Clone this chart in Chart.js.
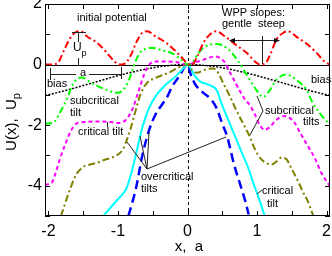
<!DOCTYPE html>
<html>
<head>
<meta charset="utf-8">
<script src="https://cdn.jsdelivr.net/npm/chart.js@4.4.0/dist/chart.umd.min.js"></script>
<style>
  html, body { margin: 0; padding: 0; background: #fff; }
</style>
</head>
<body>
<canvas id="chart" width="332" height="256"></canvas>
<script>
// Tick labels
const xLabelVals = [-2, -1, 0, 1, 2];
const yLabelVals = [2, 0, -2, -4];

// initial potential (red)
const redX = [-2.05, -1.95, -1.87, -1.77, -1.70, -1.62, -1.54, -1.44, -1.30, -1.18, -1.04, -0.98, -0.91, -0.81, -0.74, -0.65, -0.58, -0.46, -0.31, -0.17, -0.05, 0.0, 0.07, 0.14, 0.23, 0.33, 0.41, 0.54, 0.69, 0.85, 0.98, 1.04, 1.11, 1.19, 1.28, 1.38, 1.44, 1.59, 1.73, 1.88, 1.97, 2.05];
const redY = [0, 0, 0.05, 0.5, 0.83, 1.05, 1.1, 0.92, 0.72, 0.44, 0.08, 0, 0.02, 0.33, 0.72, 1.05, 1.1, 0.93, 0.72, 0.44, 0.15, 0.02, 0, 0.27, 0.72, 1.01, 1.1, 0.93, 0.66, 0.39, 0.08, 0, 0.02, 0.33, 0.83, 1.05, 1.1, 0.88, 0.66, 0.33, 0.1, 0];

// subcritical tilt (green)
const greenX = [-2.05, -1.95, -1.9, -1.85, -1.78, -1.72, -1.65, -1.58, -1.52, -1.42, -1.3, -1.15, -1.02, -0.93, -0.85, -0.79, -0.74, -0.68, -0.6, -0.5, -0.36, -0.22, -0.1, 0, 0.07, 0.16, 0.26, 0.42, 0.59, 0.73, 0.85, 0.97, 1.09, 1.19, 1.28, 1.42, 1.59, 1.71, 1.8, 1.92, 2.05];
const greenY = [-1.95, -1.93, -1.85, -1.65, -1.35, -1.05, -0.65, -0.47, -0.43, -0.55, -0.7, -0.85, -0.93, -0.85, -0.55, -0.17, 0.15, 0.4, 0.52, 0.55, 0.47, 0.37, 0.18, 0, 0.06, 0.39, 0.6, 0.68, 0.5, 0.11, -0.33, -0.77, -1.07, -0.83, -0.5, -0.33, -0.55, -0.83, -1.26, -1.65, -2.0];

// magenta tilt
const magX = [-2.05, -1.96, -1.9, -1.84, -1.77, -1.68, -1.6, -1.5, -1.3, -1.1, -1.0, -0.93, -0.85, -0.78, -0.7, -0.62, -0.55, -0.45, -0.3, -0.15, 0, 0.1, 0.21, 0.3, 0.4, 0.48, 0.54, 0.62, 0.69, 0.76, 0.83, 0.9, 0.97, 1.04, 1.11, 1.19, 1.26, 1.33, 1.4, 1.47, 1.54, 1.62, 1.69, 1.76, 1.83, 1.92, 2.05];
const magY = [-3.96, -3.92, -3.6, -3.15, -2.7, -2.2, -1.95, -1.9, -1.88, -1.9, -1.93, -1.9, -1.72, -1.4, -0.85, -0.3, 0.0, 0.1, 0.1, 0.08, 0, 0.07, 0.14, 0.22, 0.27, 0.2, 0.06, -0.3, -0.6, -0.9, -1.16, -1.35, -1.65, -2.0, -2.15, -2.05, -1.87, -1.74, -1.7, -1.76, -1.92, -2.25, -2.53, -2.8, -3.08, -3.55, -4.02];

// olive tilt
const olvX = [-1.82, -1.7, -1.6, -1.5, -1.4, -1.3, -1.2, -1.1, -1.0, -0.93, -0.88, -0.83, -0.78, -0.72, -0.67, -0.58, -0.46, -0.36, -0.27, -0.15, 0, 0.07, 0.14, 0.2, 0.28, 0.37, 0.45, 0.5, 0.59, 0.69, 0.8, 0.89, 0.97, 1.05, 1.13, 1.21, 1.28, 1.35, 1.42, 1.5, 1.59, 1.66, 1.73, 1.81];
const olvY = [-5.0, -4.18, -3.63, -3.38, -3.3, -3.24, -3.15, -3.08, -2.97, -2.8, -2.53, -2.2, -1.8, -1.3, -0.95, -0.6, -0.44, -0.35, -0.27, -0.12, 0, -0.2, -0.27, -0.22, -0.15, -0.13, -0.3, -0.55, -0.95, -1.45, -1.95, -2.35, -2.8, -3.1, -3.25, -3.3, -3.2, -3.07, -3.12, -3.45, -3.85, -4.2, -4.51, -5.0];

// cyan tilt
const cyanX = [-1.21, -1.07, -0.95, -0.88, -0.81, -0.73, -0.64, -0.55, -0.46, -0.31, -0.17, -0.05, 0, 0.05, 0.11, 0.19, 0.3, 0.42, 0.5, 0.6, 0.69, 0.77, 0.88, 0.96, 1.04, 1.11];
const cyanY = [-5.0, -4.62, -4.32, -4.1, -3.6, -2.85, -2.0, -1.42, -1.05, -0.66, -0.39, -0.1, 0, -0.15, -0.39, -0.57, -0.66, -0.85, -1.35, -1.9, -2.4, -2.85, -3.45, -4.0, -4.5, -5.0];

// blue tilt
const blueX = [-0.85, -0.74, -0.65, -0.55, -0.46, -0.36, -0.3, -0.22, -0.12, 0, 0.05, 0.11, 0.22, 0.35, 0.42, 0.5, 0.57, 0.67, 0.75, 0.83, 0.88];
const blueY = [-5.0, -4.07, -3.0, -2.15, -1.65, -1.3, -1.1, -0.72, -0.39, 0, -0.35, -0.65, -0.92, -1.18, -1.45, -1.95, -2.37, -3.3, -3.9, -4.5, -4.95];

// bias (dotted)
const biasX = [-2.05, 0, 2.05];
const biasY = [-1.02, 0, -1.02];

const FONT = '"Liberation Sans", Arial, Helvetica, sans-serif';
Chart.defaults.font.family = FONT;
Chart.defaults.color = '#000';

const pts = (xs, ys) => xs.map((x, i) => ({ x: x, y: ys[i] }));

function curve(xs, ys, color, width, dash) {
    return {
        data: pts(xs, ys),
        showLine: true,
        borderColor: color,
        borderWidth: width,
        borderDash: dash,
        pointRadius: 0,
        fill: false,
        cubicInterpolationMode: 'monotone'
    };
}

function seg(ctx, list) {
    ctx.beginPath();
    ctx.moveTo(list[0][0], list[0][1]);
    for (let i = 1; i < list.length; i++) ctx.lineTo(list[i][0], list[i][1]);
    ctx.stroke();
}

function txt(ctx, s, x, y, size) {
    ctx.font = size + 'px ' + FONT;
    ctx.fillText(s, x, y);
}

function arrowHead(ctx, x, y, dir) {
    ctx.beginPath();
    ctx.moveTo(x, y);
    ctx.lineTo(x - dir * 6, y - 2.5);
    ctx.lineTo(x - dir * 6, y + 2.5);
    ctx.closePath();
    ctx.fill();
}

// no automatic room for overflowing tick labels
function noPad(s) {
    s.paddingLeft = 0; s.paddingRight = 0;
    s.paddingTop = 0; s.paddingBottom = 0;
}

const decor = {
    id: 'decor',
    beforeDatasetsDraw(chart) {
        const { ctx, chartArea: a, scales: { x, y } } = chart;
        ctx.save();
        ctx.strokeStyle = '#000';
        ctx.lineWidth = 1;
        const y0 = Math.round(y.getPixelForValue(0)) + 0.5;
        seg(ctx, [[a.left, y0], [a.right, y0]]);
        const x0 = Math.round(x.getPixelForValue(0)) + 0.5;
        ctx.setLineDash([3, 3]);
        seg(ctx, [[x0, a.top], [x0, a.bottom]]);
        ctx.restore();
    },
    afterDraw(chart) {
        const { ctx, chartArea: a, scales: { x, y } } = chart;
        ctx.save();
        // frame
        ctx.strokeStyle = '#000';
        ctx.lineWidth = 1;
        ctx.strokeRect(a.left + 0.5, a.top + 0.5, a.right - a.left - 1, a.bottom - a.top - 1);
        // inward ticks
        for (let v = -2; v <= 2.001; v += 0.5) {
            const px = Math.round(x.getPixelForValue(v)) + 0.5;
            seg(ctx, [[px, a.bottom], [px, a.bottom - 5]]);
            seg(ctx, [[px, a.top], [px, a.top + 5]]);
        }
        for (let v = -5; v <= 2; v++) {
            const py = Math.round(y.getPixelForValue(v)) + 0.5;
            seg(ctx, [[a.left, py], [a.left + 5, py]]);
            seg(ctx, [[a.right, py], [a.right - 5, py]]);
        }

        // annotation lines
        ctx.strokeStyle = '#222';
        ctx.lineWidth = 1;
        // U_p marker
        seg(ctx, [[72, 32.5], [86, 32.5]]);
        seg(ctx, [[78.5, 32], [78.5, 42]]);
        seg(ctx, [[78.5, 58], [78.5, 65]]);
        // period a
        seg(ctx, [[50, 74.5], [76, 74.5]]);
        seg(ctx, [[89, 74.5], [122, 74.5]]);
        seg(ctx, [[50.5, 68], [50.5, 80]]);
        seg(ctx, [[121.5, 67], [121.5, 79]]);
        // critical tilt (left) leader
        seg(ctx, [[107.5, 122], [107.5, 127]]);
        // overcritical leaders
        seg(ctx, [[147, 169], [127, 142]]);
        seg(ctx, [[147, 169], [140, 136]]);
        seg(ctx, [[147, 169], [149, 132]]);
        seg(ctx, [[147, 169], [226, 137]]);
        // subcritical tilts (right) leaders
        seg(ctx, [[257, 96], [263, 111], [250, 135]]);
        // critical tilt (right) leader
        seg(ctx, [[257, 194], [262, 190]]);
        // WPP slopes arrows
        seg(ctx, [[231, 40.5], [278, 40.5]]);
        seg(ctx, [[262.5, 36], [262.5, 64]]);
        ctx.fillStyle = '#000';
        arrowHead(ctx, 229, 40.5, -1);
        arrowHead(ctx, 280, 40.5, 1);

        // texts
        ctx.fillStyle = '#000';
        ctx.textBaseline = 'middle';
        ctx.textAlign = 'left';
        txt(ctx, 'initial potential', 77, 18, 11);
        txt(ctx, 'U', 73, 48, 12);
        txt(ctx, 'p', 81.5, 54, 9);
        txt(ctx, 'a', 80, 73, 11);
        txt(ctx, 'bias', 47, 84, 11);
        txt(ctx, 'subcritical', 70, 101, 11);
        txt(ctx, 'tilt', 70, 113, 11);
        txt(ctx, 'critical tilt', 78, 132, 11);
        txt(ctx, 'overcritical', 141, 177, 11);
        txt(ctx, 'tilts', 141, 189, 11);
        txt(ctx, 'WPP slopes:', 222, 13, 11);
        txt(ctx, 'gentle  steep', 222, 24, 11);
        txt(ctx, 'bias', 311, 80, 11);
        txt(ctx, 'subcritical', 265, 111, 11);
        txt(ctx, 'tilts', 303, 122, 11);
        txt(ctx, 'critical', 262, 191, 11);
        txt(ctx, 'tilt', 267, 204, 11);

        // axis titles
        ctx.textAlign = 'center';
        txt(ctx, 'x,  a', 189, 247, 15);
        ctx.translate(12, 122);
        ctx.rotate(-Math.PI / 2);
        ctx.textAlign = 'left';
        ctx.font = '15px ' + FONT;
        const main = 'U(x),  U';
        const w1 = ctx.measureText(main).width;
        ctx.font = '11px ' + FONT;
        const w2 = ctx.measureText('p').width;
        const start = -(w1 + w2) / 2;
        txt(ctx, main, start, 0, 15);
        txt(ctx, 'p', start + w1, 5, 11);
        ctx.restore();
    }
};

const ctx = document.getElementById('chart').getContext('2d');
new Chart(ctx, {
    type: 'scatter',
    data: {
        datasets: [
            curve(redX, redY, '#ff0000', 2, [7, 3, 2, 3]),
            curve(greenX, greenY, '#00ff00', 2, [7, 3, 2, 3, 2, 3]),
            curve(magX, magY, '#ff00ff', 2, [4, 3]),
            curve(olvX, olvY, '#808000', 2, [7, 3, 2, 3]),
            curve(cyanX, cyanY, '#00ffff', 2, []),
            curve(blueX, blueY, '#0000ff', 2.5, [9, 5]),
            curve(biasX, biasY, '#000000', 1.5, [2, 1.5])
        ]
    },
    options: {
        responsive: false,
        animation: false,
        layout: { padding: { left: 0, right: 2, top: 4, bottom: 0 } },
        plugins: {
            legend: { display: false },
            tooltip: { enabled: false },
            title: { display: false }
        },
        scales: {
            x: {
                type: 'linear',
                min: -2.05,
                max: 2.05,
                grid: { display: false, drawTicks: false },
                border: { display: false },
                ticks: { font: { size: 16 }, padding: 6, callback: v => String(v) },
                afterBuildTicks: s => { s.ticks = xLabelVals.map(v => ({ value: v })); },
                afterFit: s => { s.height = 40; noPad(s); }
            },
            y: {
                type: 'linear',
                min: -5,
                max: 2,
                grid: { display: false, drawTicks: false },
                border: { display: false },
                ticks: { font: { size: 16 }, padding: 3, callback: v => String(v) },
                afterBuildTicks: s => { s.ticks = yLabelVals.map(v => ({ value: v })); },
                afterFit: s => { s.width = 45; noPad(s); }
            }
        }
    },
    plugins: [decor]
});
</script>
</body>
</html>
